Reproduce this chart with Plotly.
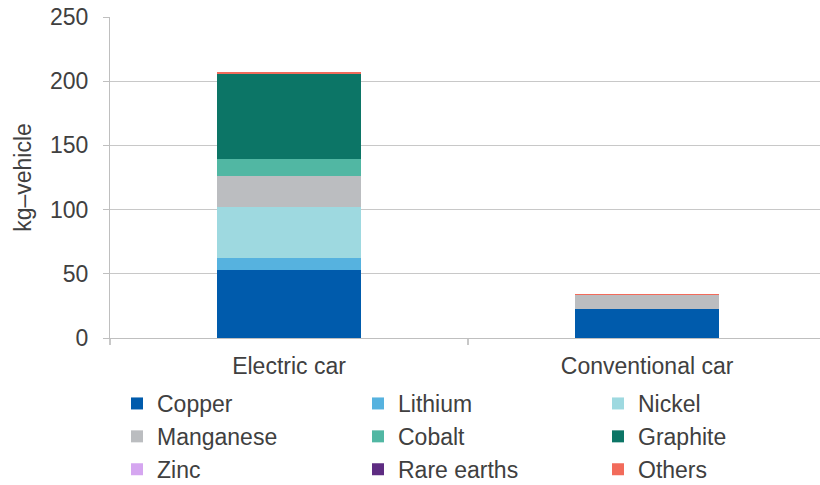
import plotly.graph_objects as go

categories = ["Electric car", "Conventional car"]
minerals = ["Copper", "Lithium", "Nickel", "Manganese", "Cobalt", "Graphite", "Zinc", "Rare earths", "Others"]
copper = [53.2, 22.3]
lithium = [8.9, 0]
nickel = [39.9, 0]
manganese = [24.5, 11.2]
cobalt = [13.3, 0]
graphite = [66.3, 0]
zinc = [0.1, 0.1]
rare_earths = [0.1, 0]
others = [0.5, 0.5]
y_ticks = [0, 50, 100, 150, 200, 250]

series = [copper, lithium, nickel, manganese, cobalt, graphite, zinc, rare_earths, others]
colors = ["#005BAC", "#56B2DF", "#9ED9E0", "#BBBDC0", "#51B7A3", "#0C7566", "#D5A6F0", "#5E2C82", "#F26B5B"]
legend_of = ["legend", "legend2", "legend3"]

FONT = "Liberation Sans, Arial, sans-serif"
TXT = "#404040"

fig = go.Figure()
for i, (name, vals, col) in enumerate(zip(minerals, series, colors)):
    fig.add_trace(go.Bar(
        x=categories, y=vals, name=name,
        marker=dict(color=col, line=dict(width=0)),
        width=0.402,
        legend=legend_of[i % 3],
        legendgroup=name,
        hoverinfo="x+y+name",
    ))

W0, W1 = 110, 820
def px_x(p):
    return (p - W0) / (W1 - W0)

T0, B0 = 17, 338
def px_y(p):
    return (B0 - p) / (B0 - T0)

leg_common = dict(
    orientation="v", xanchor="left", yanchor="top",
    font=dict(family=FONT, size=23, color=TXT),
    bgcolor="rgba(0,0,0,0)", borderwidth=0,
    tracegroupgap=2, itemwidth=30, traceorder="normal",
)

fig.update_layout(
    width=820, height=485,
    margin=dict(l=W0, r=0, t=T0, b=485 - B0, autoexpand=False),
    paper_bgcolor="white", plot_bgcolor="white",
    barmode="stack",
    font=dict(family=FONT, size=23, color=TXT),
    showlegend=True,
    legend=dict(x=px_x(117), y=px_y(382), **leg_common),
    legend2=dict(x=px_x(358), y=px_y(382), **leg_common),
    legend3=dict(x=px_x(598), y=px_y(382), **leg_common),
    xaxis=dict(
        range=[-0.5, 1.483],
        showgrid=False,
        showline=True, linecolor="#BFBFBF", linewidth=1,
        ticks="outside", tickson="boundaries", ticklen=6, tickwidth=2, tickcolor="#C8C8C8",
        tickfont=dict(family=FONT, size=23, color=TXT),
        ticklabelstandoff=7,
        automargin=False,
    ),
    yaxis=dict(
        range=[0, 250],
        tickvals=y_ticks,
        showgrid=True, gridcolor="#C8C8C8", gridwidth=1,
        showline=True, linecolor="#BFBFBF", linewidth=1,
        ticks="outside", ticklen=6, tickcolor="#BFBFBF",
        tickfont=dict(family=FONT, size=23, color=TXT),
        ticklabelstandoff=10,
        zeroline=False,
        automargin=False,
        title=dict(text="kg–vehicle", font=dict(family=FONT, size=23, color=TXT), standoff=11),
    ),
)

fig.write_html("out.html", config={"displayModeBar": False},
               post_script="document.body.style.margin='0px';")
